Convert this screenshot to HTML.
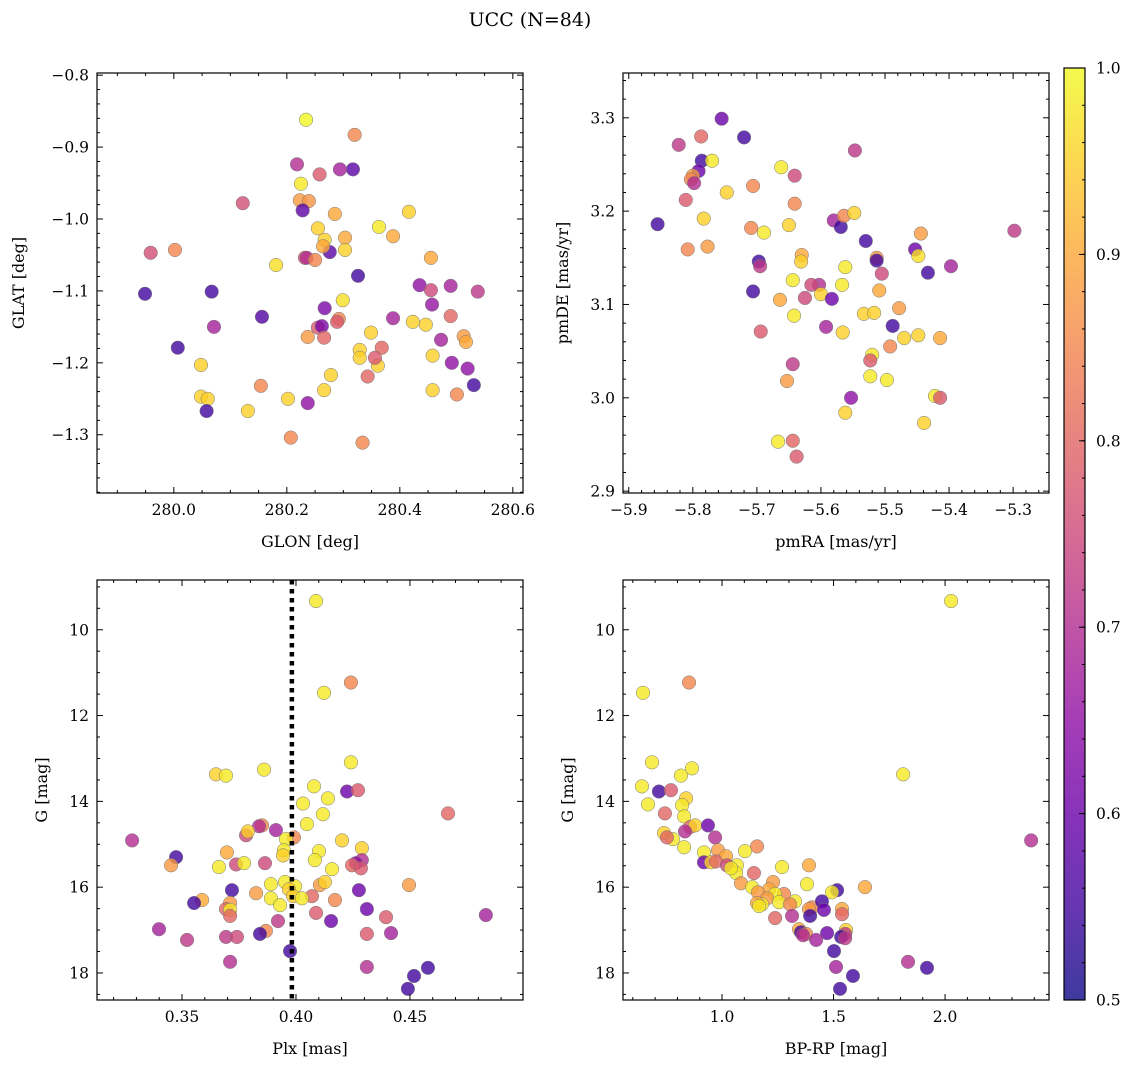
<!DOCTYPE html>
<html><head><meta charset="utf-8">
<style>
html,body{margin:0;padding:0;background:#fff;}
svg{display:block;font-family:"DejaVu Serif","Liberation Serif",serif;}
</style></head>
<body>
<svg id="fig" width="1136" height="1068" viewBox="0 0 1136 1068" xmlns="http://www.w3.org/2000/svg">
<text x="530" y="26" font-size="19" text-anchor="middle">UCC (N=84)</text>
</svg>
<script>
// ---- Panel 1: GLON / GLAT ----
const glon = [280.234,280.320,280.317,280.218,280.294,280.258,280.225,280.223,280.239,280.228,280.122,280.285,280.416,280.255,280.267,280.303,280.363,280.388,280.303,280.276,280.264,280.232,280.235,280.250,279.959,280.002,280.181,280.455,280.326,279.949,280.067,280.388,280.435,280.455,280.490,280.538,280.299,280.267,280.457,280.007,280.071,280.156,280.349,280.292,280.289,280.255,280.262,280.266,280.237,280.446,280.423,280.368,280.329,280.329,280.361,280.356,280.343,280.278,280.473,280.513,280.517,280.490,280.458,280.492,280.520,280.531,280.501,280.458,280.048,280.154,280.048,280.060,280.131,280.202,280.058,280.237,280.266,280.207,280.334];
const glat = [-0.862,-0.883,-0.931,-0.924,-0.931,-0.938,-0.951,-0.974,-0.975,-0.988,-0.978,-0.993,-0.990,-1.013,-1.029,-1.026,-1.011,-1.024,-1.043,-1.046,-1.038,-1.054,-1.054,-1.057,-1.047,-1.043,-1.064,-1.054,-1.079,-1.104,-1.101,-1.138,-1.092,-1.099,-1.093,-1.101,-1.113,-1.124,-1.119,-1.179,-1.150,-1.136,-1.158,-1.139,-1.143,-1.151,-1.149,-1.165,-1.164,-1.147,-1.143,-1.179,-1.182,-1.193,-1.204,-1.193,-1.219,-1.217,-1.168,-1.163,-1.171,-1.135,-1.190,-1.200,-1.208,-1.231,-1.244,-1.238,-1.203,-1.232,-1.247,-1.250,-1.267,-1.250,-1.267,-1.256,-1.238,-1.304,-1.311];
const prob1 = [1.0,.85,.58,.7,.68,.78,.98,.88,.87,.58,.76,.9,.95,.95,.95,.9,.98,.9,.95,.58,.9,.78,.7,.85,.76,.85,.97,.9,.55,.55,.55,.68,.65,.75,.68,.72,.97,.62,.66,.55,.68,.57,.95,.85,.78,.78,.62,.8,.88,.95,.95,.8,.95,.95,.95,.78,.8,.95,.68,.88,.9,.8,.95,.65,.65,.55,.85,.95,.95,.85,.95,.95,.95,.95,.55,.65,.95,.85,.85];
// ---- Panel 2: pmRA / pmDE ----
const pmra = [-5.755,-5.822,-5.787,-5.720,-5.786,-5.770,-5.791,-5.800,-5.803,-5.798,-5.747,-5.706,-5.662,-5.641,-5.547,-5.811,-5.855,-5.641,-5.783,-5.777,-5.808,-5.689,-5.709,-5.650,-5.580,-5.569,-5.564,-5.548,-5.530,-5.630,-5.631,-5.697,-5.695,-5.562,-5.513,-5.513,-5.453,-5.448,-5.444,-5.397,-5.298,-5.433,-5.644,-5.603,-5.600,-5.615,-5.567,-5.509,-5.505,-5.706,-5.664,-5.625,-5.583,-5.478,-5.642,-5.533,-5.517,-5.488,-5.694,-5.592,-5.566,-5.470,-5.448,-5.414,-5.492,-5.520,-5.523,-5.644,-5.523,-5.497,-5.653,-5.553,-5.422,-5.414,-5.562,-5.439,-5.667,-5.644,-5.638];
const pmde = [3.299,3.271,3.280,3.279,3.254,3.254,3.243,3.238,3.234,3.230,3.220,3.227,3.247,3.238,3.265,3.212,3.186,3.208,3.192,3.162,3.159,3.177,3.182,3.185,3.190,3.183,3.195,3.198,3.168,3.153,3.146,3.146,3.141,3.140,3.150,3.147,3.159,3.152,3.176,3.141,3.179,3.134,3.126,3.121,3.111,3.121,3.121,3.115,3.133,3.114,3.105,3.107,3.106,3.096,3.088,3.090,3.091,3.077,3.071,3.076,3.070,3.064,3.067,3.064,3.055,3.046,3.040,3.036,3.023,3.019,3.018,3.000,3.002,3.000,2.984,2.973,2.953,2.954,2.937];
const prob2 = [.6,.72,.8,.55,.55,.98,.6,.88,.85,.7,.95,.85,.98,.75,.72,.78,.55,.85,.95,.88,.85,.98,.85,.95,.68,.55,.85,.95,.55,.9,.95,.55,.72,.98,.88,.55,.6,.97,.88,.68,.72,.55,.98,.7,.95,.75,.98,.9,.75,.55,.9,.75,.6,.88,.98,.95,.95,.55,.78,.68,.95,.95,.95,.9,.85,.98,.78,.72,.98,.98,.88,.65,.98,.78,.95,.95,.98,.8,.78];
// ---- Panel 3: Plx / G ----
const plx = [0.4088,0.4123,0.4241,0.3649,0.3693,0.3860,0.4241,0.4079,0.4224,0.4272,0.4667,0.4140,0.4031,0.4118,0.4048,0.3851,0.3838,0.3912,0.3781,0.3789,0.3281,0.3991,0.3956,0.4202,0.4289,0.3947,0.4101,0.3943,0.3474,0.3697,0.4083,0.4289,0.4263,0.3737,0.3772,0.3452,0.3864,0.3662,0.4246,0.4158,0.4285,0.3890,0.3952,0.3996,0.4105,0.4127,0.4496,0.3719,0.4276,0.3825,0.3969,0.3987,0.4070,0.3890,0.4026,0.3588,0.3553,0.3711,0.4171,0.3693,0.3711,0.3930,0.4311,0.4088,0.3711,0.4395,0.4833,0.4154,0.3921,0.3868,0.3842,0.3399,0.3693,0.3741,0.3522,0.4311,0.4417,0.3974,0.3711,0.4311,0.4579,0.4518,0.4491];
const gmag3 = [9.33,11.47,11.23,13.37,13.40,13.26,13.09,13.65,13.77,13.74,14.28,13.93,14.05,14.30,14.53,14.56,14.58,14.67,14.79,14.70,14.91,14.84,14.88,14.91,15.09,15.14,15.16,15.26,15.30,15.19,15.37,15.37,15.44,15.47,15.44,15.49,15.44,15.53,15.49,15.58,15.56,15.93,15.88,15.98,15.95,15.88,15.95,16.07,16.07,16.14,16.05,16.21,16.21,16.26,16.26,16.30,16.37,16.37,16.30,16.51,16.53,16.42,16.51,16.60,16.67,16.70,16.65,16.79,16.79,17.02,17.09,16.98,17.16,17.16,17.23,17.09,17.07,17.49,17.74,17.86,17.88,18.07,18.37];
const prob3 = [.98,.98,.85,.95,.98,.98,.98,.98,.6,.78,.8,.98,.98,.98,.98,.85,.7,.68,.75,.95,.7,.85,.98,.95,.95,.98,.98,.95,.55,.9,.98,.7,.65,.75,.98,.88,.75,.98,.8,.98,.78,.98,.98,.98,.88,.95,.88,.55,.6,.88,.95,.95,.8,.98,.98,.9,.55,.88,.85,.8,.98,.98,.6,.78,.8,.78,.68,.6,.72,.85,.55,.68,.72,.75,.72,.78,.68,.55,.7,.7,.55,.55,.55];
const plxLine = [0.3982];
// ---- Panel 4: BP-RP / G ----
const bprp = [2.027,0.646,0.852,0.686,0.641,1.812,0.865,0.816,0.717,0.771,0.668,0.839,0.821,0.744,0.830,2.386,0.857,0.879,0.937,0.834,0.740,0.780,0.753,0.969,0.830,1.157,0.919,0.982,1.103,0.919,0.951,1.018,1.067,0.973,1.022,1.269,1.390,1.063,1.040,1.143,1.381,1.085,1.229,1.211,1.135,1.161,1.516,1.493,1.641,1.278,1.238,1.202,1.256,1.327,1.305,1.179,1.157,1.166,1.404,1.448,1.538,1.390,1.457,1.395,1.538,1.314,1.238,1.556,1.345,1.354,1.377,1.471,1.363,1.552,1.534,1.552,1.422,1.502,1.834,1.919,1.511,1.587,1.529];
const gmag4 = [9.33,11.47,11.23,13.09,13.65,13.37,13.23,13.40,13.77,13.74,14.07,13.93,14.09,14.28,14.35,14.91,14.60,14.56,14.56,14.70,14.74,14.88,14.84,14.84,15.07,15.05,15.19,15.14,15.16,15.42,15.42,15.28,15.49,15.40,15.49,15.53,15.49,15.67,15.56,15.67,15.93,15.91,15.88,16.05,16.00,16.12,16.07,16.12,16.00,16.16,16.16,16.26,16.35,16.33,16.40,16.40,16.37,16.44,16.47,16.33,16.51,16.51,16.53,16.67,16.63,16.67,16.72,17.00,16.98,17.05,17.09,17.07,17.12,17.09,17.16,17.19,17.23,17.49,17.74,17.88,17.86,18.07,18.37];
const prob4 = [.98,.98,.85,.98,.98,.98,.98,.98,.55,.78,.98,.95,.98,.8,.98,.7,.8,.95,.6,.7,.95,.98,.8,.7,.98,.85,.98,.88,.98,.6,.95,.9,.98,.8,.75,.98,.9,.98,.98,.8,.98,.88,.88,.9,.98,.88,.55,.98,.9,.85,.98,.88,.98,.98,.85,.98,.9,.98,.85,.55,.9,.88,.6,.55,.8,.7,.8,.95,.9,.55,.85,.6,.7,.72,.55,.72,.68,.55,.7,.55,.68,.55,.55];
// ---- Colorbar ----
const cbTicks = [0.5,0.6,0.7,0.8,0.9,1.0];
const cbRange = [0.5,1.0];

const NS = "http://www.w3.org/2000/svg";
const svg = document.getElementById('fig');
function mk(tag, attrs, parent){const e=document.createElementNS(NS,tag);for(const k in attrs)e.setAttribute(k,attrs[k]);(parent||svg).appendChild(e);return e;}
const plasma=[[13,8,135],[65,4,157],[106,0,168],[143,13,164],[177,42,144],[204,71,120],[225,100,98],[242,132,75],[252,166,54],[252,206,37],[240,249,33]];
function cmap(v){let t=(v-cbRange[0])/(cbRange[1]-cbRange[0]);t=Math.max(0,Math.min(1,t))*10;const i=Math.min(9,Math.floor(t)),f=t-i;const a=plasma[i],b=plasma[i+1];return 'rgb('+a.map((c,k)=>Math.round(c+(b[k]-c)*f)).join(',')+')';}
function fmt(v,d){return (v<0?'\u2212':'')+Math.abs(v).toFixed(d);}

function panel(cfg){
  const g=mk('g',{});
  
  
  const {L,R,T,B}=cfg;
  const sx=v=>L+(v-cfg.xmin)/(cfg.xmax-cfg.xmin)*(R-L);
  const sy=v=>cfg.inv? T+(v-cfg.ymin)/(cfg.ymax-cfg.ymin)*(B-T) : B-(v-cfg.ymin)/(cfg.ymax-cfg.ymin)*(B-T);
  for(let i=0;i<cfg.xs.length;i++){
    const c=mk('circle',{cx:sx(cfg.xs[i]),cy:sy(cfg.ys[i]),r:6.8,fill:cmap(cfg.ps[i]),'fill-opacity':0.8,stroke:'#777','stroke-width':0.5},g);
    
    
  }
  if(cfg.vline){for(const v of cfg.vline){const l=mk('line',{x1:sx(v),x2:sx(v),y1:T,y2:B,stroke:'#000','stroke-width':4.5,'stroke-dasharray':'4.5 4.5'},g);
    
    }}
  const tk=mk('g',{stroke:'#000','stroke-width':1},g);
  
  
  const eps=1e-9;
  for(let v=Math.ceil(cfg.xmin/cfg.xminor-eps)*cfg.xminor; v<=cfg.xmax+eps; v+=cfg.xminor){
    const x=sx(v);const maj=Math.abs(v/cfg.xmajor-Math.round(v/cfg.xmajor))<1e-6;const len=maj?6:3;
    mk('line',{x1:x,x2:x,y1:B,y2:B-len},tk);mk('line',{x1:x,x2:x,y1:T,y2:T+len},tk);
    if(maj && x<=R+30){const t=mk('text',{x:x,y:B+22,'font-size':15.5,'text-anchor':'middle',stroke:'none',fill:'#000'},g);t.textContent=fmt(v,cfg.xd);
      
      }
  }
  for(let v=Math.ceil(cfg.ymin/cfg.yminor-eps)*cfg.yminor; v<=cfg.ymax+eps; v+=cfg.yminor){
    const y=sy(v);const maj=Math.abs(v/cfg.ymajor-Math.round(v/cfg.ymajor))<1e-6;const len=maj?6:3;
    mk('line',{x1:L,x2:L+len,y1:y,y2:y},tk);mk('line',{x1:R,x2:R-len,y1:y,y2:y},tk);
    if(maj){const t=mk('text',{x:L-8,y:y+5.5,'font-size':15.5,'text-anchor':'end',stroke:'none',fill:'#000'},g);t.textContent=fmt(v,cfg.yd);
      
      }
  }
  const fr=mk('rect',{x:L,y:T,width:R-L,height:B-T,fill:'none',stroke:'#000','stroke-width':1.2},g);
  
  
  const xl=mk('text',{x:(L+R)/2,y:B+54,'font-size':16,'text-anchor':'middle'},g);xl.textContent=cfg.xlab;
  
  
  const yx=cfg.ylx;const yl=mk('text',{x:yx,y:(T+B)/2,'font-size':16,'text-anchor':'middle',transform:'rotate(-90 '+yx+' '+(T+B)/2+')'},g);yl.textContent=cfg.ylab;
  
  
}
panel({name:'glon-glat-panel',L:97,R:523,T:73,B:493,xmin:279.864,xmax:280.618,ymin:-1.381,ymax:-0.797,xmajor:0.2,xminor:0.05,ymajor:0.1,yminor:0.02,xd:1,yd:1,xs:glon,ys:glat,ps:prob1,xlab:'GLON [deg]',ylab:'GLAT [deg]',ylx:24});
panel({name:'proper-motion-panel',L:623,R:1049,T:73,B:493,xmin:-5.909,xmax:-5.244,ymin:2.898,ymax:3.348,xmajor:0.1,xminor:0.02,ymajor:0.1,yminor:0.02,xd:1,yd:1,xs:pmra,ys:pmde,ps:prob2,xlab:'pmRA [mas/yr]',ylab:'pmDE [mas/yr]',ylx:568});
panel({name:'parallax-magnitude-panel',L:97,R:523,T:580,B:1000,xmin:0.3127,xmax:0.4996,ymin:8.84,ymax:18.63,inv:true,xmajor:0.05,xminor:0.01,ymajor:2,yminor:0.5,xd:2,yd:0,xs:plx,ys:gmag3,ps:prob3,vline:plxLine,xlab:'Plx [mas]',ylab:'G [mag]',ylx:47});
panel({name:'color-magnitude-panel',L:623,R:1049,T:580,B:1000,xmin:0.556,xmax:2.466,ymin:8.84,ymax:18.63,inv:true,xmajor:0.5,xminor:0.1,ymajor:2,yminor:0.5,xd:1,yd:0,xs:bprp,ys:gmag4,ps:prob4,xlab:'BP-RP [mag]',ylab:'G [mag]',ylx:573});

(function(){
  const L=1064,R=1085,T=68,B=1000;
  const g=mk('g',{});
  
  
  const defs=mk('defs',{},g);
  const lg=mk('linearGradient',{id:'pl',x1:0,y1:1,x2:0,y2:0},defs);
  for(let i=0;i<=10;i++){mk('stop',{offset:i/10,'stop-color':cmap(cbRange[0]+(cbRange[1]-cbRange[0])*i/10)},lg);}
  mk('rect',{x:L,y:T,width:R-L,height:B-T,fill:'url(#pl)','fill-opacity':0.8,stroke:'none'},g);
  mk('rect',{x:L,y:T,width:R-L,height:B-T,fill:'none',stroke:'#000','stroke-width':1.2},g);
  const sy=v=>B-(v-cbRange[0])/(cbRange[1]-cbRange[0])*(B-T);
  for(let v=cbRange[0];v<=cbRange[1]+1e-9;v+=0.02){const y=sy(v);mk('line',{x1:R,x2:R-3,y1:y,y2:y,stroke:'#000'},g);}
  for(const v of cbTicks){const y=sy(v);mk('line',{x1:R,x2:R-6,y1:y,y2:y,stroke:'#000'},g);
    const t=mk('text',{x:R+11,y:y+5.5,'font-size':15.5},g);t.textContent=v.toFixed(1);
    
    }
})();
</script>
</body></html>
